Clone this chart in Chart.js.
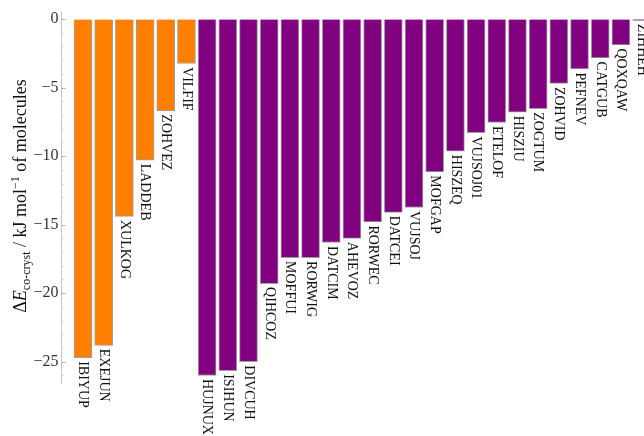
<!DOCTYPE html>
<html>
<head>
<meta charset="utf-8">
<script src="https://cdn.jsdelivr.net/npm/chart.js@4/dist/chart.umd.min.js"></script>
<style>
  html, body { margin: 0; padding: 0; background: #fff; overflow: hidden; }
  #wrap { width: 660px; height: 436px; position: relative; }
</style>
</head>
<body>
<div id="wrap"><canvas id="cocrystChart"></canvas></div>
<script>
// refcodes and co-crystal energies (kJ/mol of molecules)
const orangeNames = ['IBIYUP', 'EXEJUN', 'XULKOG', 'LADDEB', 'ZOHVEZ', 'VILFIF'];
const orangeValues = [-24.7, -23.8, -14.4, -10.3, -6.7, -3.25];

const purpleNames = ['HUJNUX', 'ISIHUN', 'DIVCUH', 'QIHCOZ', 'MOFFUI', 'RORWIG', 'DATCIM',
    'AHEVOZ', 'RORWEC', 'DATCEI', 'VUJSOJ', 'MOFGAP', 'HISZEQ', 'VUJSOJ01', 'ETELOF',
    'HISZIU', 'ZOGTUM', 'ZOHVID', 'PEFNEV', 'CATGUB', 'QOXQAW', 'ZIHHEH'];
const purpleValues = [-26.0, -25.65, -25.0, -19.3, -17.4, -17.4, -16.3,
    -16.0, -14.8, -14.1, -13.75, -11.15, -9.65, -8.3, -7.55,
    -6.8, -6.55, -4.7, -3.65, -2.85, -1.9, -0.1];

const yTicks = [0, -5, -10, -15, -20, -25];

const SERIF = '"Liberation Serif", "Times New Roman", serif';

const orangeData = orangeValues.map((v, i) => ({ x: i, y: v, name: orangeNames[i] }));
const purpleData = purpleValues.map((v, i) => ({ x: orangeValues.length + i, y: v, name: purpleNames[i] }));

// refcode under the end of each bar, reading downwards
const barLabels = {
    id: 'barLabels',
    afterDatasetsDraw(chart) {
        const ctx = chart.ctx;
        ctx.save();
        ctx.font = '14px ' + SERIF;
        ctx.fillStyle = '#111';
        ctx.textAlign = 'left';
        ctx.textBaseline = 'middle';
        chart.data.datasets.forEach((ds, di) => {
            chart.getDatasetMeta(di).data.forEach((bar, i) => {
                ctx.save();
                ctx.translate(bar.x, bar.y + 3.5);
                ctx.rotate(Math.PI / 2);
                ctx.fillText(ds.data[i].name, 0, 0);
                ctx.restore();
            });
        });
        ctx.restore();
    }
};

// tick marks point inwards: long ones every 5, short ones every unit
const inwardTicks = {
    id: 'inwardTicks',
    afterDraw(chart) {
        const y = chart.scales.y;
        const ctx = chart.ctx;
        ctx.save();
        ctx.lineWidth = 1;
        for (let v = 0; v >= -26; v--) {
            const major = v % 5 === 0;
            const py = Math.round(y.getPixelForValue(v)) + 0.5;
            ctx.strokeStyle = major ? '#b4b4b4' : '#d2d2d2';
            ctx.beginPath();
            ctx.moveTo(y.right, py);
            ctx.lineTo(y.right + (major ? 4.5 : 2.5), py);
            ctx.stroke();
        }
        ctx.restore();
    }
};

// y title with subscript and superscript
const yTitle = {
    id: 'yTitle',
    afterDraw(chart) {
        const ctx = chart.ctx;
        const parts = [
            { t: '\u0394', f: '18px ' + SERIF, dy: 0 },
            { t: 'E', f: 'italic 18px ' + SERIF, dy: 0 },
            { t: 'co-cryst', f: '12px ' + SERIF, dy: 4 },
            { t: ' / kJ mol', f: '18px ' + SERIF, dy: 0 },
            { t: '\u22121', f: '12px ' + SERIF, dy: -7 },
            { t: ' of molecules', f: '18px ' + SERIF, dy: 0 }
        ];
        ctx.save();
        let total = 0;
        parts.forEach(p => { ctx.font = p.f; p.w = ctx.measureText(p.t).width; total += p.w; });
        ctx.translate(25.5, 196);
        ctx.rotate(-Math.PI / 2);
        ctx.fillStyle = '#111';
        ctx.textBaseline = 'alphabetic';
        ctx.textAlign = 'left';
        let x = -total / 2;
        parts.forEach(p => {
            ctx.font = p.f;
            ctx.fillText(p.t, x, p.dy);
            x += p.w;
        });
        ctx.restore();
    }
};

const ctx = document.getElementById('cocrystChart').getContext('2d');
const cocrystChart = new Chart(ctx, {
    type: 'bar',
    data: {
        datasets: [{
            data: orangeData,
            backgroundColor: '#ff8000',
            borderColor: 'rgba(130, 130, 130, 0.75)',
            borderWidth: 1,
        }, {
            data: purpleData,
            backgroundColor: '#800080',
            borderColor: 'rgba(130, 130, 130, 0.75)',
            borderWidth: 1,
        }]
    },
    options: {
        responsive: true,
        maintainAspectRatio: false,
        animation: false,
        layout: { padding: { left: 0, right: 6, top: 11.63, bottom: 52.7 } },
        datasets: { bar: { barThickness: 18, grouped: false } },
        plugins: {
            legend: { display: false },
            tooltip: { enabled: false }
        },
        scales: {
            x: {
                type: 'linear',
                display: false,
                offset: false,
                grid: { offset: false },
                min: -1.063,
                max: 27.6
            },
            y: {
                min: -26.57,
                max: 0.5,
                afterFit(scale) { scale.width = 61; },
                afterBuildTicks(scale) { scale.ticks = yTicks.map(v => ({ value: v })); },
                border: { color: '#c4c4c4', width: 1 },
                grid: {
                    drawOnChartArea: false,
                    drawTicks: false
                },
                ticks: {
                    padding: 2.5,
                    color: '#333',
                    font: { family: SERIF, size: 16 },
                    callback: v => String(v).replace('-', '\u2212')
                }
            }
        }
    },
    plugins: [barLabels, inwardTicks, yTitle]
});
</script>
</body>
</html>
